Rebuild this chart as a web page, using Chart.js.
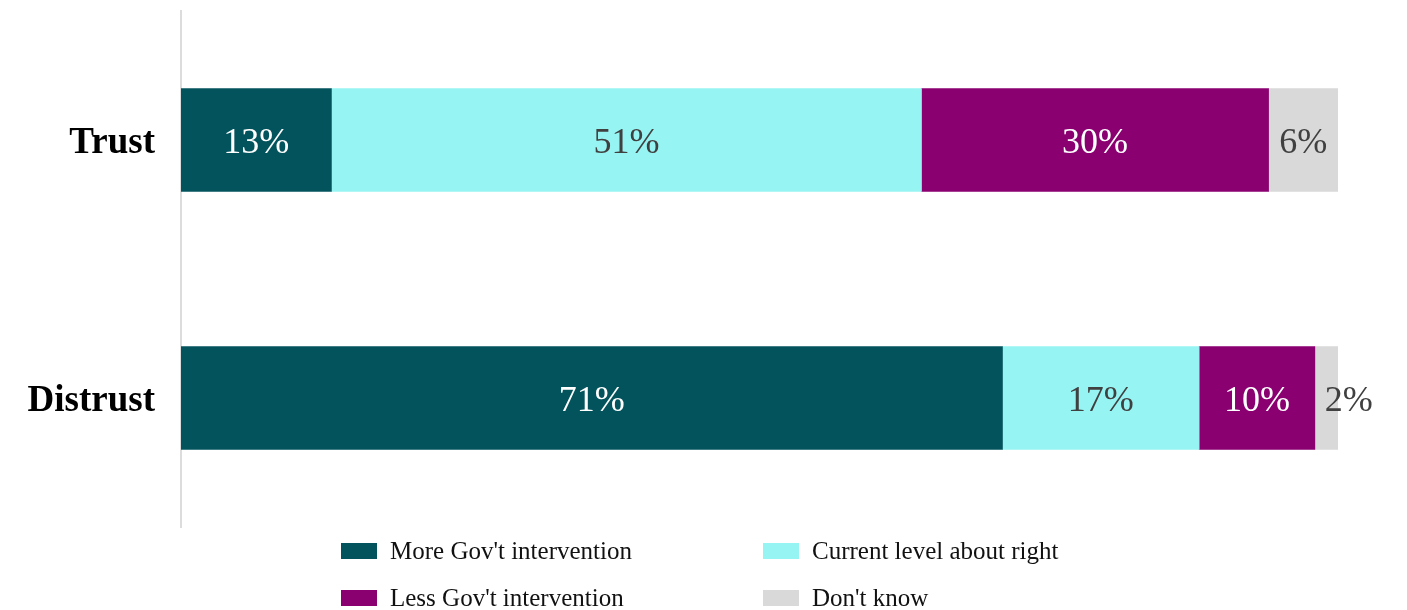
<!DOCTYPE html>
<html><head><meta charset="utf-8">
<script src="https://cdn.jsdelivr.net/npm/chart.js@4/dist/chart.umd.min.js"></script>
<style>
html,body{margin:0;padding:0;background:#fff;}
#wrap{position:relative;width:1407px;height:610px;overflow:hidden;}
.lg{position:absolute;display:flex;align-items:center;font-family:'Liberation Serif','Times New Roman',serif;font-size:25px;color:#111;white-space:nowrap;}
.lg span.box{display:inline-block;width:36px;height:16px;margin-right:13px;}
</style></head>
<body><div id="wrap"><canvas id="c" width="1407" height="610"></canvas></div>
<script>
const categories = ['Trust', 'Distrust'];
const seriesNames = ['More Gov\'t intervention', 'Current level about right', 'Less Gov\'t intervention', 'Don\'t know'];
const moreGov = [13, 71];
const currentRight = [51, 17];
const lessGov = [30, 10];
const dontKnow = [6, 2];
const colors = ['#02535C', '#96F5F3', '#8A0070', '#D9D9D9'];
const labelColors = ['#ffffff', '#404040', '#ffffff', '#404040'];

const seriesValues = [moreGov, currentRight, lessGov, dontKnow];
const FONT = "'Liberation Serif','Times New Roman',serif";

const labelPlugin = {
  id: 'barLabels',
  afterDatasetsDraw(chart) {
    const ctx = chart.ctx;
    ctx.save();
    ctx.font = '36px ' + FONT;
    ctx.textBaseline = 'middle';
    ctx.textAlign = 'left';
    chart.data.datasets.forEach((ds, di) => {
      const meta = chart.getDatasetMeta(di);
      meta.data.forEach((el, i) => {
        const txt = ds.data[i] + '%';
        const w = ctx.measureText(txt).width;
        const start = Math.min(el.base, el.x), end = Math.max(el.base, el.x);
        let x = (start + end) / 2 - w / 2;
        if (w > end - start) x = start + 10;
        ctx.fillStyle = labelColors[di];
        ctx.fillText(txt, x, el.y + 4);
      });
    });
    ctx.restore();
  }
};

new Chart(document.getElementById('c'), {
  type: 'bar',
  data: {
    labels: categories,
    datasets: seriesNames.map((n, i) => ({
      label: n,
      data: seriesValues[i],
      backgroundColor: colors[i],
      borderWidth: 0,
      barThickness: 103
    }))
  },
  options: {
    indexAxis: 'y',
    responsive: false,
    animation: false,
    devicePixelRatio: 1,
    layout: { padding: { left: 0, right: 69, top: 11, bottom: 83 } },
    plugins: { legend: { display: false }, tooltip: { enabled: false } },
    scales: {
      x: { stacked: true, min: 0, max: 100, display: false },
      y: {
        stacked: true,
        grid: { display: false, drawTicks: false },
        border: { display: true, color: '#dcdcdc', width: 2 },
        ticks: { color: '#000', padding: 26, labelOffset: 3, font: { family: FONT, size: 37, weight: 'bold' } },
        afterFit(scale) { scale.width = 181; scale.paddingTop = 0; scale.paddingBottom = 0; }
      }
    }
  },
  plugins: [labelPlugin]
});

const wrap = document.getElementById('wrap');
const colX = [341, 763];
const rowY = [551, 598];
seriesNames.forEach((n, i) => {
  const d = document.createElement('div');
  d.className = 'lg';
  d.style.left = colX[i % 2] + 'px';
  d.style.top = (rowY[Math.floor(i / 2)] - 14) + 'px';
  d.style.height = '28px';
  const b = document.createElement('span');
  b.className = 'box';
  b.style.background = colors[i];
  d.appendChild(b);
  d.appendChild(document.createTextNode(n));
  wrap.appendChild(d);
});
</script></body></html>
